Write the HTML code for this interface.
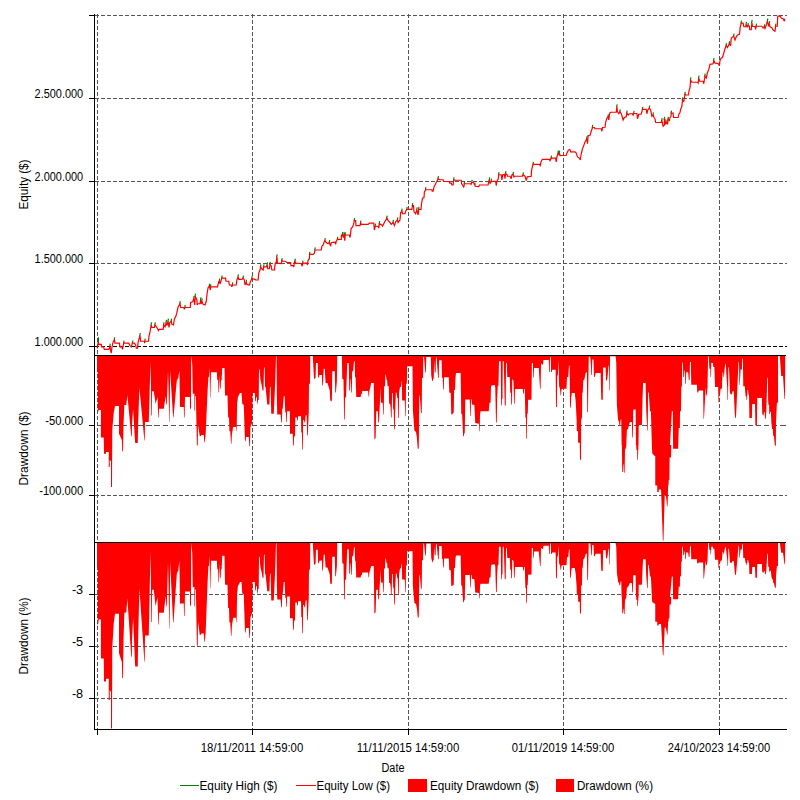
<!DOCTYPE html>
<html lang="en"><head><meta charset="utf-8"><title>Equity chart</title>
<style>html,body{margin:0;padding:0;background:#fff;}svg{display:block;}text{font-family:'Liberation Sans', sans-serif;font-size:12px;fill:#000;}</style>
</head><body>
<svg width="800" height="800" viewBox="0 0 800 800">
<rect width="800" height="800" fill="#fff"/>
<line x1="97.50" y1="14.00" x2="97.50" y2="729.50" stroke="#555" stroke-width="1" stroke-dasharray="4 2" shape-rendering="crispEdges"/>
<line x1="252.50" y1="14.00" x2="252.50" y2="729.50" stroke="#555" stroke-width="1" stroke-dasharray="4 2" shape-rendering="crispEdges"/>
<line x1="408.50" y1="14.00" x2="408.50" y2="729.50" stroke="#555" stroke-width="1" stroke-dasharray="4 2" shape-rendering="crispEdges"/>
<line x1="563.50" y1="14.00" x2="563.50" y2="729.50" stroke="#555" stroke-width="1" stroke-dasharray="4 2" shape-rendering="crispEdges"/>
<line x1="719.50" y1="14.00" x2="719.50" y2="729.50" stroke="#555" stroke-width="1" stroke-dasharray="4 2" shape-rendering="crispEdges"/>
<line x1="94.50" y1="15.50" x2="787.00" y2="15.50" stroke="#555" stroke-width="1" stroke-dasharray="4 2" shape-rendering="crispEdges"/>
<line x1="94.50" y1="98.50" x2="787.00" y2="98.50" stroke="#555" stroke-width="1" stroke-dasharray="4 2" shape-rendering="crispEdges"/>
<line x1="94.50" y1="181.50" x2="787.00" y2="181.50" stroke="#555" stroke-width="1" stroke-dasharray="4 2" shape-rendering="crispEdges"/>
<line x1="94.50" y1="263.50" x2="787.00" y2="263.50" stroke="#555" stroke-width="1" stroke-dasharray="4 2" shape-rendering="crispEdges"/>
<line x1="94.50" y1="346.50" x2="787.00" y2="346.50" stroke="#000" stroke-width="1" stroke-dasharray="4 2" shape-rendering="crispEdges"/>
<line x1="94.50" y1="425.50" x2="787.00" y2="425.50" stroke="#555" stroke-width="1" stroke-dasharray="5.6 2.525" stroke-dashoffset="5.125" shape-rendering="crispEdges"/>
<line x1="94.50" y1="495.50" x2="787.00" y2="495.50" stroke="#555" stroke-width="1" stroke-dasharray="4 2" shape-rendering="crispEdges"/>
<line x1="94.50" y1="594.50" x2="787.00" y2="594.50" stroke="#555" stroke-width="1" stroke-dasharray="4 2" shape-rendering="crispEdges"/>
<line x1="94.50" y1="646.50" x2="787.00" y2="646.50" stroke="#555" stroke-width="1" stroke-dasharray="4 2" shape-rendering="crispEdges"/>
<line x1="94.50" y1="698.50" x2="787.00" y2="698.50" stroke="#555" stroke-width="1" stroke-dasharray="4 2" shape-rendering="crispEdges"/>
<path d="M97.00,355.50 L97.00,355.62 L97.00,371.88 L97.75,372.25 L97.75,412.50 L98.75,410.00 L100.88,410.00 L100.88,437.50 L103.75,437.50 L103.75,437.50 L104.00,453.75 L106.00,453.75 L106.00,451.88 L108.75,451.88 L108.75,466.88 L109.75,466.88 L109.75,460.00 L111.00,461.25 L111.00,486.88 L112.00,486.88 L112.12,467.50 L112.25,430.00 L113.75,412.50 L115.00,405.88 L119.00,405.88 L119.00,433.75 L119.00,433.75 L121.88,440.00 L122.25,451.25 L123.00,451.25 L123.25,437.50 L123.50,425.00 L124.38,405.00 L126.25,405.00 L127.38,395.00 L131.25,436.25 L131.88,436.25 L132.00,425.00 L133.12,408.75 L135.00,441.25 L135.25,443.12 L137.75,443.12 L138.12,425.00 L139.38,387.50 L144.38,440.62 L144.75,440.62 L145.00,421.88 L148.75,421.88 L149.75,387.50 L150.62,361.88 L151.00,387.50 L151.25,415.62 L151.88,415.62 L152.12,391.25 L153.75,391.25 L155.62,403.75 L157.50,396.88 L158.25,417.50 L158.75,417.50 L159.00,408.75 L163.75,408.75 L165.62,396.25 L166.25,404.38 L166.75,404.38 L168.00,371.25 L168.50,387.50 L169.25,421.88 L169.62,421.88 L170.12,370.62 L173.12,417.50 L173.50,417.50 L176.25,386.25 L177.12,378.12 L177.88,380.62 L179.38,370.62 L180.00,406.88 L183.75,406.88 L184.12,417.50 L184.62,417.50 L185.00,396.88 L189.88,396.88 L190.00,408.75 L191.00,408.75 L191.12,362.50 L191.50,355.62 L192.25,365.00 L192.75,393.75 L194.38,393.75 L194.38,410.62 L195.00,410.62 L195.12,396.25 L195.88,396.25 L196.88,445.62 L197.75,445.62 L198.00,425.00 L199.75,436.25 L200.62,436.25 L201.25,435.00 L203.75,435.00 L204.38,442.50 L204.75,442.50 L205.62,435.00 L207.50,392.50 L208.38,376.88 L209.00,376.88 L209.62,367.50 L210.00,397.50 L210.38,397.50 L211.00,372.25 L216.88,372.25 L217.25,380.00 L218.12,380.00 L218.50,392.50 L219.00,392.50 L219.50,375.00 L220.00,388.75 L220.62,388.75 L221.00,380.62 L221.62,380.62 L222.25,368.12 L224.50,368.12 L225.00,395.62 L227.50,395.62 L228.12,417.50 L229.00,417.50 L229.38,431.25 L230.25,431.25 L231.00,443.75 L231.50,443.75 L231.88,435.00 L233.12,426.88 L236.00,426.88 L236.25,431.25 L236.62,431.25 L237.12,402.50 L237.50,401.25 L237.88,396.88 L240.00,393.12 L241.50,393.12 L242.25,403.75 L243.75,405.00 L245.00,441.25 L245.62,441.25 L246.00,436.88 L248.75,436.88 L249.38,446.25 L250.00,446.25 L250.38,426.88 L251.25,425.00 L252.12,422.50 L252.50,393.12 L254.75,393.12 L255.25,401.25 L255.88,401.25 L256.25,396.88 L256.88,396.88 L257.25,403.75 L257.75,403.75 L258.12,400.00 L258.75,400.00 L259.00,369.38 L259.75,369.38 L260.25,378.75 L261.88,386.25 L262.50,390.62 L263.50,390.62 L264.00,367.50 L264.62,367.50 L265.00,386.25 L265.62,387.50 L267.25,404.38 L269.38,404.38 L270.00,386.88 L270.62,386.88 L271.25,413.75 L273.75,413.75 L275.00,387.50 L276.00,356.25 L276.50,356.25 L276.88,400.00 L277.25,414.38 L280.62,414.38 L281.25,422.50 L281.88,422.50 L282.25,408.75 L282.75,408.75 L283.75,396.25 L284.62,396.25 L285.25,412.50 L286.00,412.50 L286.25,421.88 L286.88,421.88 L287.12,411.25 L289.88,411.25 L290.00,433.75 L292.75,433.75 L293.00,445.62 L293.75,445.62 L294.12,436.25 L295.00,436.25 L295.25,417.50 L296.88,417.50 L297.12,420.62 L297.75,420.62 L298.12,416.25 L301.00,416.25 L301.25,432.50 L301.88,432.50 L302.25,449.38 L302.88,449.38 L303.12,420.00 L304.00,420.00 L304.38,422.50 L305.00,422.50 L305.62,415.62 L306.62,415.00 L307.12,435.62 L307.75,435.62 L308.75,412.50 L309.00,383.75 L310.00,383.75 L310.25,355.62 L312.75,355.62 L314.00,378.75 L315.00,378.75 L315.62,377.50 L316.00,363.12 L317.75,363.12 L318.12,377.50 L319.00,377.50 L319.38,375.00 L321.88,375.00 L322.25,385.62 L322.88,385.62 L323.75,368.75 L324.75,368.75 L325.62,383.12 L327.50,383.12 L329.75,390.62 L330.25,400.62 L331.50,401.50 L331.88,400.00 L332.25,371.25 L334.75,371.25 L335.25,392.50 L335.88,392.50 L336.88,381.25 L337.25,355.62 L341.88,355.62 L342.25,378.75 L343.50,379.38 L344.12,419.38 L344.75,419.38 L345.00,397.50 L346.00,397.50 L347.25,363.12 L348.75,363.12 L349.25,390.62 L350.00,390.62 L350.50,378.75 L350.88,379.38 L351.25,392.50 L351.88,392.50 L352.12,371.25 L353.12,371.25 L354.00,361.25 L354.75,361.25 L355.00,376.88 L355.62,377.50 L356.25,396.88 L360.62,396.88 L361.25,393.75 L361.88,393.75 L362.25,391.00 L368.12,391.00 L368.50,396.50 L369.00,396.50 L369.38,391.25 L371.25,383.12 L373.75,383.12 L374.38,439.38 L375.62,438.12 L376.25,411.25 L377.88,411.25 L378.25,422.50 L379.00,422.50 L380.62,387.50 L380.88,402.50 L382.75,403.12 L383.25,414.38 L383.75,414.38 L384.12,386.25 L385.00,386.25 L385.38,374.38 L385.88,374.38 L386.50,380.00 L387.12,380.00 L387.50,386.25 L388.75,386.25 L389.12,403.75 L389.88,403.75 L390.00,403.75 L390.62,407.50 L391.00,417.50 L391.62,417.50 L392.12,393.12 L392.75,393.12 L393.12,408.75 L393.75,410.00 L394.12,429.38 L394.75,429.38 L395.25,410.00 L395.88,392.50 L396.50,392.50 L397.25,398.12 L397.75,398.12 L398.12,418.12 L398.75,418.12 L399.12,392.50 L400.00,386.88 L401.00,386.88 L401.50,381.25 L401.88,381.25 L402.12,400.62 L404.75,400.62 L405.25,416.25 L405.75,416.25 L406.00,383.75 L406.88,383.75 L407.12,366.25 L412.50,366.25 L412.88,410.00 L414.38,430.62 L416.00,431.88 L416.88,437.50 L417.75,448.75 L418.75,448.75 L419.00,425.00 L419.25,395.62 L419.75,395.62 L421.00,413.12 L421.75,413.12 L422.00,378.12 L423.00,378.12 L423.25,356.88 L424.00,356.88 L425.25,372.50 L425.88,372.50 L426.25,356.88 L430.75,356.88 L431.25,375.62 L432.25,381.25 L432.75,381.25 L433.12,378.75 L433.75,378.75 L434.12,360.00 L434.75,372.50 L435.62,372.50 L436.00,357.50 L436.62,357.50 L438.12,378.12 L438.75,378.12 L439.12,360.25 L441.62,360.25 L442.00,377.50 L442.75,378.12 L443.12,389.38 L443.75,389.38 L444.12,377.25 L448.75,377.25 L449.25,392.50 L450.75,393.12 L451.25,414.38 L451.88,414.38 L453.75,412.50 L454.12,390.00 L455.00,390.00 L455.50,376.88 L456.00,373.12 L460.62,373.12 L461.25,413.75 L462.12,414.38 L463.12,436.25 L463.75,436.25 L464.38,433.12 L464.75,433.12 L465.25,399.38 L469.75,399.38 L470.25,416.25 L470.75,416.25 L471.00,400.00 L471.50,398.75 L472.00,404.38 L474.38,405.00 L475.25,423.12 L479.00,423.75 L479.25,431.25 L479.75,431.25 L480.00,414.38 L480.62,411.25 L488.75,411.25 L489.38,403.12 L489.88,403.12 L490.00,402.50 L490.62,402.50 L491.00,386.88 L491.50,385.62 L494.75,385.00 L495.25,387.50 L496.00,422.50 L496.75,422.50 L497.12,400.00 L497.75,386.25 L498.50,385.62 L499.00,361.25 L500.75,361.25 L501.12,405.62 L501.75,405.62 L502.00,399.38 L502.50,398.75 L502.75,361.25 L503.75,361.25 L504.75,405.62 L505.75,405.62 L506.00,363.12 L506.75,363.12 L507.25,376.88 L509.75,376.88 L510.25,392.50 L511.00,393.12 L511.25,404.38 L512.00,404.38 L512.25,379.38 L512.88,379.38 L513.50,381.25 L514.00,403.75 L514.62,403.75 L515.00,389.00 L522.75,389.00 L523.12,393.75 L523.75,393.75 L524.12,389.00 L524.75,389.00 L525.38,417.50 L526.00,418.12 L526.25,438.75 L526.88,438.75 L527.12,413.75 L527.75,413.75 L528.12,399.75 L531.50,399.75 L531.88,363.12 L532.88,363.12 L533.25,377.50 L533.75,377.50 L534.12,368.12 L538.75,368.12 L540.00,388.75 L540.62,388.75 L541.00,363.75 L542.00,363.75 L542.25,364.75 L543.00,364.75 L543.38,360.00 L548.75,360.00 L549.12,371.88 L549.75,371.88 L550.00,356.88 L550.75,356.88 L551.00,371.88 L551.75,371.88 L552.12,369.75 L555.62,369.75 L556.00,406.88 L556.88,406.88 L557.25,375.62 L557.88,375.62 L558.50,360.00 L559.12,386.25 L560.00,388.75 L560.62,395.62 L561.00,395.62 L561.50,389.38 L562.50,388.75 L566.50,388.75 L567.00,376.88 L568.25,376.88 L569.00,365.62 L569.62,365.62 L570.00,407.50 L570.75,407.50 L571.25,397.50 L571.88,393.12 L574.75,393.12 L575.62,400.62 L576.62,420.00 L576.75,431.00 L578.00,431.25 L578.12,442.75 L579.75,442.75 L580.00,459.75 L581.00,459.75 L581.12,420.00 L582.00,417.50 L582.25,393.12 L582.75,392.50 L583.25,380.62 L584.38,379.38 L585.62,373.12 L586.88,371.88 L587.25,411.88 L588.00,411.88 L588.25,387.50 L588.75,356.88 L589.00,356.25 L590.25,356.88 L591.00,366.25 L591.25,375.00 L591.88,375.00 L592.25,359.38 L593.50,359.38 L594.00,376.88 L594.75,376.88 L595.62,373.12 L600.62,373.12 L601.25,399.38 L602.75,400.00 L603.12,367.50 L605.62,367.50 L606.00,380.62 L606.88,380.62 L607.50,376.88 L608.50,366.25 L609.00,365.00 L609.25,390.62 L609.75,390.62 L610.00,356.25 L615.62,356.25 L616.25,362.50 L616.88,405.00 L618.12,420.00 L619.00,421.88 L619.38,425.62 L620.25,425.62 L620.62,419.38 L621.25,419.38 L621.62,445.00 L621.88,445.00 L622.25,471.88 L623.12,471.88 L623.38,463.75 L623.75,465.00 L624.00,472.75 L624.62,472.75 L625.00,449.38 L625.62,448.75 L626.50,445.00 L626.25,446.25 L626.88,430.00 L628.12,428.75 L629.38,423.75 L630.00,421.88 L631.88,421.88 L632.25,437.50 L632.88,437.50 L633.25,409.38 L635.62,409.38 L636.00,445.00 L636.25,445.00 L636.38,450.00 L637.12,450.00 L637.25,459.75 L637.88,459.75 L638.12,452.50 L638.50,445.00 L638.50,445.00 L638.75,425.00 L641.88,425.00 L642.50,400.00 L643.12,383.12 L645.62,383.12 L646.25,411.25 L647.25,430.62 L647.75,430.62 L648.12,392.50 L648.75,392.50 L650.00,411.25 L650.88,411.25 L651.88,445.00 L651.88,445.00 L652.25,453.75 L652.75,453.75 L654.00,455.62 L655.25,456.25 L655.25,485.62 L657.25,485.62 L657.25,491.88 L658.75,491.88 L658.75,489.38 L661.00,489.38 L661.25,495.00 L662.25,523.75 L662.88,540.62 L663.50,540.62 L664.00,520.00 L664.75,495.00 L665.88,495.62 L667.12,506.25 L667.62,506.25 L668.12,485.62 L668.50,485.62 L668.75,480.00 L669.38,480.00 L669.62,457.50 L671.00,457.50 L671.25,445.00 L670.00,445.00 L671.88,411.25 L672.75,411.25 L673.12,448.75 L678.12,448.75 L678.75,428.12 L679.88,428.12 L680.00,411.25 L681.00,411.25 L681.25,387.50 L681.88,386.25 L682.25,362.50 L682.88,362.50 L683.25,376.88 L684.00,376.88 L684.50,370.62 L685.00,370.62 L685.25,383.75 L685.88,383.75 L686.25,372.25 L688.12,372.25 L688.75,380.00 L689.62,380.00 L690.00,361.88 L690.88,361.88 L691.25,384.75 L696.88,384.75 L697.25,392.50 L698.12,392.50 L698.75,390.62 L703.12,390.62 L703.50,418.75 L704.00,418.75 L705.62,387.50 L706.25,395.62 L706.88,395.62 L707.50,386.88 L708.12,356.25 L708.75,356.25 L709.38,368.75 L710.25,368.75 L710.50,376.88 L711.00,376.88 L711.25,363.12 L712.88,363.12 L713.25,366.88 L714.38,366.88 L715.00,386.88 L718.12,386.88 L718.50,402.50 L719.00,402.50 L719.38,394.38 L720.00,394.38 L720.62,388.75 L721.88,388.75 L722.50,372.50 L723.12,372.50 L723.50,376.88 L724.00,376.88 L724.50,370.00 L725.25,363.75 L725.75,363.75 L727.25,388.75 L727.50,400.00 L728.00,400.00 L728.38,367.50 L729.00,367.50 L730.00,393.75 L731.25,393.75 L731.88,395.00 L732.50,391.25 L733.75,391.25 L734.75,413.75 L735.25,418.12 L735.88,418.12 L736.25,412.50 L738.50,361.88 L739.00,361.88 L739.38,385.00 L739.75,385.00 L740.62,369.38 L741.88,369.38 L742.25,358.75 L742.88,358.75 L743.25,386.25 L744.75,386.25 L745.62,396.25 L746.25,396.25 L746.50,400.00 L747.00,400.00 L747.50,390.00 L748.12,390.00 L748.50,395.00 L749.00,395.00 L749.38,418.12 L751.88,418.12 L752.25,404.00 L755.00,404.00 L755.38,425.62 L756.88,425.62 L757.25,398.12 L761.88,398.12 L762.25,414.38 L763.12,414.38 L763.50,416.25 L764.00,411.88 L764.62,411.88 L765.00,418.75 L765.75,418.75 L766.25,412.50 L767.25,378.12 L767.90,377.50 L768.13,400.00 L768.35,404.50 L769.10,404.88 L769.25,413.88 L770.00,413.88 L770.15,411.63 L770.90,411.63 L771.35,422.50 L772.10,428.88 L772.85,428.88 L773.15,435.63 L773.90,436.00 L774.88,445.75 L775.85,445.75 L776.00,422.50 L776.90,403.00 L777.88,402.85 L777.88,400.00 L778.00,403.00 L778.00,356.00 L779.80,356.00 L781.20,376.00 L783.00,376.00 L784.50,399.00 L785.00,399.00 L785.20,356.00 L785.20,355.50 L785.20,355.50 Z" fill="#ff0000"/>
<path d="M97.00,542.50 L97.00,542.69 L97.00,566.95 L97.75,567.51 L97.75,627.60 L98.75,619.61 L100.88,619.61 L100.88,658.52 L103.75,658.52 L103.75,658.52 L104.00,681.51 L106.00,681.51 L106.00,678.86 L108.75,678.86 L108.75,700.08 L109.75,700.08 L109.75,690.35 L111.00,692.12 L111.00,728.38 L112.00,728.38 L112.12,700.97 L112.25,647.91 L113.75,623.15 L115.00,613.77 L119.00,613.77 L119.00,653.21 L119.00,653.21 L121.88,662.06 L122.25,677.97 L123.00,677.97 L123.25,658.52 L123.50,640.83 L124.38,612.54 L126.25,612.54 L127.38,598.39 L131.25,656.75 L131.88,656.75 L132.00,640.83 L133.12,617.84 L135.00,663.82 L135.25,666.48 L137.75,666.48 L138.12,640.83 L139.38,587.78 L144.38,661.73 L144.75,661.73 L145.00,635.46 L148.75,635.46 L149.75,587.32 L150.62,551.24 L151.00,586.38 L151.25,621.91 L151.88,621.91 L152.12,589.72 L153.75,589.72 L155.62,606.23 L157.50,597.15 L158.25,624.39 L158.75,624.39 L159.00,612.83 L163.75,612.83 L165.62,596.32 L166.25,606.20 L166.75,606.20 L168.00,563.03 L168.50,583.93 L169.25,628.44 L169.62,628.44 L170.12,562.08 L173.12,622.78 L173.50,622.78 L176.25,581.42 L177.12,570.51 L177.88,573.60 L179.38,560.71 L180.00,603.42 L183.75,603.42 L184.12,616.01 L184.62,616.01 L185.00,591.56 L189.88,591.56 L190.00,605.64 L191.00,605.26 L191.12,550.75 L191.50,542.65 L192.25,553.70 L192.75,587.45 L194.38,586.79 L194.38,606.33 L195.00,606.33 L195.12,589.68 L195.88,589.13 L196.88,645.64 L197.75,645.64 L198.00,622.03 L199.75,634.91 L200.62,634.91 L201.25,633.48 L203.75,633.48 L204.38,642.06 L204.75,642.06 L205.62,633.48 L207.50,584.12 L208.38,566.01 L209.00,566.01 L209.62,555.62 L210.00,588.43 L210.38,588.43 L211.00,560.82 L216.88,560.82 L217.25,569.29 L218.12,569.29 L218.50,582.30 L219.00,582.30 L219.50,563.36 L220.00,578.07 L220.62,578.07 L221.00,569.38 L221.62,569.23 L222.25,555.83 L224.50,555.83 L225.00,584.85 L227.50,584.85 L228.12,607.94 L229.00,607.94 L229.38,622.45 L230.25,622.45 L231.00,635.65 L231.50,635.65 L231.88,626.41 L233.12,617.84 L236.00,617.84 L236.25,622.45 L236.62,622.45 L237.12,592.11 L237.50,590.79 L237.88,586.17 L240.00,582.00 L241.50,582.00 L242.25,593.16 L243.75,594.47 L245.00,632.53 L245.62,632.53 L246.00,627.93 L248.75,627.93 L249.38,637.78 L250.00,637.78 L250.38,617.44 L251.25,615.47 L252.12,612.84 L252.50,582.00 L254.75,582.00 L255.25,590.53 L255.88,590.53 L256.25,585.94 L256.88,585.94 L257.25,593.16 L257.75,593.16 L258.12,589.22 L258.75,588.48 L259.00,556.84 L259.75,556.84 L260.25,566.21 L261.88,573.46 L262.50,577.87 L263.50,577.87 L264.00,554.58 L264.62,554.58 L265.00,573.46 L265.62,574.72 L267.25,591.34 L269.38,591.34 L270.00,573.77 L270.62,573.77 L271.25,600.56 L273.75,600.56 L275.00,574.40 L276.00,543.24 L276.50,543.24 L276.88,585.55 L277.25,599.46 L280.62,599.46 L281.25,607.32 L281.88,607.32 L282.25,594.01 L282.75,594.01 L283.75,581.92 L284.62,581.92 L285.25,597.64 L286.00,597.64 L286.25,606.71 L286.88,606.71 L287.12,596.43 L289.88,596.43 L290.00,618.20 L292.75,618.20 L293.00,629.69 L293.75,629.69 L294.12,620.62 L295.00,620.62 L295.25,602.48 L296.88,602.48 L297.12,605.50 L297.75,605.50 L298.12,601.27 L301.00,601.27 L301.25,616.99 L301.88,616.99 L302.25,633.32 L302.88,633.32 L303.12,604.90 L304.00,604.90 L304.38,607.32 L305.00,607.32 L305.62,600.67 L306.62,600.06 L307.12,620.01 L307.75,620.01 L308.75,597.64 L309.00,569.83 L310.00,569.56 L310.25,542.62 L312.75,542.62 L314.00,564.77 L315.00,564.40 L315.62,563.22 L316.00,549.68 L317.75,549.68 L318.12,563.22 L319.00,563.22 L319.38,560.87 L321.88,560.61 L322.25,570.48 L322.88,570.48 L323.75,554.75 L324.75,554.58 L325.62,567.62 L327.50,567.62 L329.75,574.44 L330.25,583.54 L331.50,584.33 L331.88,582.97 L332.25,556.82 L334.75,556.82 L335.25,576.15 L335.88,576.15 L336.88,565.92 L337.25,542.61 L341.88,542.61 L342.25,563.21 L343.50,563.72 L344.12,599.28 L344.75,599.28 L345.00,579.83 L346.00,579.83 L347.25,549.28 L348.75,549.28 L349.25,573.72 L350.00,573.72 L350.50,563.17 L350.88,563.67 L351.25,574.73 L351.88,574.73 L352.12,556.22 L353.12,556.13 L354.00,547.43 L354.75,547.37 L355.00,560.60 L355.62,561.13 L356.25,577.54 L360.62,577.54 L361.25,574.89 L361.88,574.89 L362.25,572.56 L368.12,572.56 L368.50,577.22 L369.00,577.22 L369.38,572.78 L371.25,565.89 L373.75,565.89 L374.38,613.53 L375.62,612.47 L376.25,589.71 L377.88,589.71 L378.25,599.24 L379.00,599.24 L380.62,569.60 L380.88,582.30 L382.75,582.83 L383.25,592.36 L383.75,592.36 L384.12,568.54 L385.00,568.54 L385.38,558.48 L385.88,558.48 L386.50,563.16 L387.12,563.07 L387.50,568.32 L388.75,568.32 L389.12,583.01 L389.88,583.01 L390.00,583.01 L390.62,586.16 L391.00,594.56 L391.62,594.56 L392.12,574.09 L392.75,574.09 L393.12,587.21 L393.75,588.26 L394.12,604.53 L394.75,604.53 L395.25,588.26 L395.88,573.57 L396.50,573.57 L397.25,578.29 L397.75,578.29 L398.12,595.08 L398.75,595.08 L399.12,573.57 L400.00,568.84 L401.00,568.35 L401.50,563.71 L401.88,563.63 L402.12,579.52 L404.75,579.52 L405.25,592.34 L405.75,592.34 L406.00,565.68 L406.88,565.53 L407.12,551.26 L412.50,551.16 L412.88,586.39 L414.38,603.00 L416.00,604.01 L416.88,608.54 L417.75,617.60 L418.75,617.60 L419.00,598.47 L419.25,574.81 L419.75,574.81 L421.00,588.91 L421.75,588.62 L422.00,560.61 L423.00,560.28 L423.25,543.58 L424.00,543.58 L425.25,555.60 L425.88,555.52 L426.25,543.55 L430.75,543.55 L431.25,557.91 L432.25,562.21 L432.75,562.21 L433.12,560.30 L433.75,560.30 L434.12,545.91 L434.75,555.40 L435.62,555.28 L436.00,544.00 L436.62,544.00 L438.12,559.25 L438.75,559.25 L439.12,546.02 L441.62,546.02 L442.00,558.79 L442.75,559.25 L443.12,567.58 L443.75,567.58 L444.12,558.60 L448.75,558.60 L449.25,569.89 L450.75,570.35 L451.25,586.08 L451.88,586.08 L453.75,584.70 L454.12,568.04 L455.00,568.04 L455.50,558.32 L456.00,555.55 L460.62,555.55 L461.25,585.62 L462.12,586.08 L463.12,602.28 L463.75,602.28 L464.38,599.96 L464.75,599.96 L465.25,574.98 L469.75,574.98 L470.25,587.47 L470.75,587.47 L471.00,575.44 L471.50,574.52 L472.00,578.68 L474.38,579.14 L475.25,592.56 L479.00,593.02 L479.25,598.58 L479.75,598.58 L480.00,586.08 L480.62,583.77 L488.75,583.77 L489.38,577.76 L489.88,577.76 L490.00,577.29 L490.62,577.29 L491.00,565.73 L491.50,564.80 L494.75,564.34 L495.25,566.19 L496.00,592.10 L496.75,592.10 L497.12,575.44 L497.75,565.26 L498.50,564.80 L499.00,546.71 L500.75,546.71 L501.12,579.17 L501.75,579.17 L502.00,574.59 L502.50,574.14 L502.75,546.71 L503.75,546.71 L504.75,579.13 L505.75,579.06 L506.00,548.06 L506.75,548.06 L507.25,558.09 L509.75,558.09 L510.25,569.48 L511.00,569.94 L511.25,578.15 L512.00,578.15 L512.25,559.91 L512.88,559.91 L513.50,561.28 L514.00,577.69 L514.62,577.69 L515.00,566.93 L522.75,566.93 L523.12,570.40 L523.75,570.40 L524.12,566.93 L524.75,566.93 L525.38,587.72 L526.00,588.17 L526.25,603.22 L526.88,603.22 L527.12,584.98 L527.75,584.98 L528.12,574.77 L531.50,574.48 L531.88,548.01 L532.88,547.94 L533.25,558.11 L533.75,558.11 L534.12,551.46 L538.75,551.46 L540.00,566.10 L540.62,566.10 L541.00,548.31 L542.00,548.28 L542.25,548.98 L543.00,548.97 L543.38,545.65 L548.75,545.65 L549.12,553.96 L549.75,553.96 L550.00,543.46 L550.75,543.46 L551.00,553.96 L551.75,553.91 L552.12,552.43 L555.62,552.43 L556.00,578.31 L556.88,578.19 L557.25,556.48 L557.88,556.48 L558.50,545.59 L559.12,563.64 L560.00,565.35 L560.62,570.08 L561.00,570.08 L561.50,565.78 L562.50,565.35 L566.50,565.35 L567.00,557.19 L568.25,557.09 L569.00,549.41 L569.62,549.39 L570.00,577.87 L570.75,577.87 L571.25,571.07 L571.88,568.09 L574.75,568.09 L575.62,573.20 L576.62,586.37 L576.75,593.86 L578.00,594.03 L578.12,601.85 L579.75,601.85 L580.00,613.41 L581.00,613.41 L581.12,586.37 L582.00,584.67 L582.25,568.09 L582.75,567.63 L583.25,559.56 L584.38,558.57 L585.62,554.25 L586.88,553.32 L587.25,579.75 L588.00,579.75 L588.25,563.47 L588.75,543.40 L589.00,542.99 L590.25,543.40 L591.00,549.54 L591.25,555.13 L591.88,555.13 L592.25,545.01 L593.50,544.99 L594.00,556.21 L594.75,556.21 L595.62,553.81 L600.62,553.81 L601.25,570.64 L602.75,571.05 L603.12,550.20 L605.62,550.10 L606.00,558.41 L606.88,558.23 L607.50,555.88 L608.50,549.21 L609.00,548.43 L609.25,564.43 L609.75,564.22 L610.00,542.96 L615.62,542.96 L616.25,546.82 L616.88,572.63 L618.12,581.77 L619.00,582.91 L619.38,585.19 L620.25,585.19 L620.62,581.39 L621.25,581.39 L621.62,596.99 L621.88,596.99 L622.25,613.35 L623.12,613.35 L623.38,608.40 L623.75,609.16 L624.00,613.88 L624.62,613.88 L625.00,599.65 L625.62,599.27 L626.50,596.99 L626.25,597.75 L626.88,587.85 L628.12,587.09 L629.38,584.05 L630.00,582.91 L631.88,582.91 L632.25,592.42 L632.88,592.42 L633.25,575.30 L635.62,575.30 L636.00,596.99 L636.25,596.99 L636.38,600.03 L637.12,600.03 L637.25,605.97 L637.88,605.97 L638.12,601.55 L638.50,596.99 L638.50,596.99 L638.75,584.81 L641.88,584.81 L642.50,569.59 L643.12,559.32 L645.62,559.32 L646.25,576.44 L647.25,588.23 L647.75,588.23 L648.12,565.02 L648.75,565.02 L650.00,576.44 L650.88,576.44 L651.88,596.99 L651.88,596.99 L652.25,602.31 L652.75,602.31 L654.00,603.45 L655.25,603.83 L655.25,621.72 L657.25,621.72 L657.25,625.52 L658.75,625.52 L658.75,624.00 L661.00,624.00 L661.25,627.43 L662.25,644.93 L662.88,655.20 L663.50,655.20 L664.00,642.64 L664.75,627.43 L665.88,627.81 L667.12,634.27 L667.62,634.27 L668.12,621.72 L668.50,621.72 L668.75,618.29 L669.38,618.29 L669.62,604.60 L671.00,604.60 L671.25,596.99 L670.00,596.99 L671.88,576.44 L672.75,576.44 L673.12,599.27 L678.12,599.27 L678.75,586.71 L679.88,586.71 L680.00,576.44 L681.00,576.44 L681.25,561.98 L681.88,561.19 L682.25,546.75 L682.88,546.69 L683.25,555.30 L684.00,555.30 L684.50,551.55 L685.00,551.43 L685.25,559.18 L685.88,559.18 L686.25,552.39 L688.12,552.39 L688.75,556.97 L689.62,556.84 L690.00,546.21 L690.88,546.14 L691.25,559.20 L696.88,559.20 L697.25,563.62 L698.12,563.62 L698.75,562.46 L703.12,562.46 L703.50,578.45 L704.00,578.45 L705.62,560.61 L706.25,565.21 L706.88,565.21 L707.50,560.10 L708.12,542.92 L708.75,542.92 L709.38,549.88 L710.25,549.80 L710.50,554.28 L711.00,554.28 L711.25,546.70 L712.88,546.70 L713.25,548.76 L714.38,548.71 L715.00,559.64 L718.12,559.64 L718.50,568.18 L719.00,568.18 L719.38,563.74 L720.00,563.74 L720.62,560.67 L721.88,560.57 L722.50,551.72 L723.12,551.72 L723.50,554.10 L724.00,553.99 L724.50,550.29 L725.25,546.89 L725.75,546.89 L727.25,560.08 L727.50,566.03 L728.00,566.03 L728.38,548.84 L729.00,548.84 L730.00,562.64 L731.25,562.40 L731.88,563.05 L732.50,561.05 L733.75,561.03 L734.75,572.69 L735.25,574.96 L735.88,574.96 L736.25,572.04 L738.50,545.80 L739.00,545.80 L739.38,557.73 L739.75,557.73 L740.62,549.57 L741.88,549.50 L742.25,544.14 L742.88,544.14 L743.25,558.01 L744.75,558.01 L745.62,563.05 L746.25,563.05 L746.50,564.95 L747.00,564.95 L747.50,559.90 L748.12,559.90 L748.50,562.42 L749.00,562.42 L749.38,574.09 L751.88,574.05 L752.25,566.93 L755.00,566.93 L755.38,577.82 L756.88,577.82 L757.25,563.97 L761.88,563.97 L762.25,572.16 L763.12,572.16 L763.50,573.10 L764.00,570.90 L764.62,570.90 L765.00,574.36 L765.75,574.36 L766.25,571.21 L767.25,553.90 L767.90,553.55 L768.13,564.86 L768.35,567.12 L769.10,567.31 L769.25,571.83 L770.00,571.83 L770.15,570.70 L770.90,570.70 L771.35,576.16 L772.10,579.37 L772.85,579.37 L773.15,582.76 L773.90,582.95 L774.88,587.85 L775.85,587.85 L776.00,576.16 L776.90,566.37 L777.88,566.05 L777.88,564.63 L778.00,566.13 L778.00,542.75 L779.80,542.75 L781.20,552.69 L783.00,552.69 L784.50,564.13 L785.00,564.13 L785.20,542.75 L785.20,542.50 L785.20,542.50 Z" fill="#ff0000"/>
<line x1="94.50" y1="355.50" x2="786.00" y2="355.50" stroke="#000" stroke-width="1" shape-rendering="crispEdges"/>
<line x1="94.50" y1="542.50" x2="786.00" y2="542.50" stroke="#000" stroke-width="1" shape-rendering="crispEdges"/>
<line x1="94.50" y1="729.50" x2="787.00" y2="729.50" stroke="#000" stroke-width="1" shape-rendering="crispEdges"/>
<line x1="94.50" y1="14.00" x2="94.50" y2="730.00" stroke="#000" stroke-width="1" shape-rendering="crispEdges"/>
<path d="M97.95,342.50 L98.55,339.40 M109.70,346.75 L110.30,343.65 M114.08,340.50 L114.67,337.40 M123.45,343.62 L124.05,340.52 M132.20,343.62 L132.80,340.52 M139.70,336.12 L140.30,333.02 M144.70,341.75 L145.30,338.65 M150.95,325.50 L151.55,322.40 M154.70,325.50 L155.30,322.40 M163.45,325.50 L164.05,322.40 M165.95,323.00 L166.55,319.90 M167.82,321.75 L168.43,318.65 M170.95,321.75 L171.55,318.65 M179.70,304.25 L180.30,301.15 M184.70,308.00 L185.30,304.90 M193.45,299.25 L194.05,296.15 M194.95,296.75 L195.55,293.65 M200.32,300.50 L200.93,297.40 M201.57,301.75 L202.18,298.65 M209.07,286.75 L209.68,283.65 M210.32,287.38 L210.93,284.27 M219.07,281.75 L219.68,278.65 M221.57,278.62 L222.18,275.52 M232.20,285.50 L232.80,282.40 M237.82,277.38 L238.43,274.27 M242.82,278.62 L243.43,275.52 M245.95,283.00 L246.55,279.90 M251.57,279.25 L252.18,276.15 M260.32,267.38 L260.93,264.27 M263.45,267.38 L264.05,264.27 M266.95,265.50 L267.55,262.40 M269.70,264.88 L270.30,261.77 M276.57,257.38 L277.18,254.28 M281.57,261.12 L282.18,258.02 M294.70,261.75 L295.30,258.65 M302.45,263.62 L303.05,260.52 M309.32,254.88 L309.93,251.78 M314.70,250.50 L315.30,247.40 M324.70,241.12 L325.30,238.03 M329.07,243.00 L329.68,239.90 M337.20,239.88 L337.80,236.78 M342.20,234.88 L342.80,231.78 M343.70,235.50 L344.30,232.40 M344.95,235.50 L345.55,232.40 M354.07,221.12 L354.68,218.03 M360.32,223.62 L360.93,220.53 M374.95,226.75 L375.55,223.65 M379.07,224.25 L379.68,221.15 M386.57,218.62 L387.18,215.53 M392.82,223.00 L393.43,219.90 M397.20,220.50 L397.80,217.40 M401.57,211.75 L402.18,208.65 M406.57,209.88 L407.18,206.78 M412.20,206.12 L412.80,203.03 M416.57,210.50 L417.18,207.40 M418.45,209.88 L419.05,206.78 M425.32,190.25 L425.93,187.15 M437.82,179.25 L438.43,176.15 M453.45,180.50 L454.05,177.40 M464.07,184.25 L464.68,181.15 M471.57,183.00 L472.18,179.90 M489.07,180.50 L489.68,177.40 M490.95,181.75 L491.55,178.65 M498.45,175.25 L499.05,172.15 M505.32,174.25 L505.93,171.15 M512.83,174.88 L513.42,171.78 M522.83,175.50 L523.42,172.40 M532.83,164.88 L533.42,161.78 M550.95,158.62 L551.55,155.53 M557.83,153.62 L558.42,150.53 M559.08,153.62 L559.67,150.53 M586.58,139.25 L587.17,136.15 M592.20,128.00 L592.80,124.90 M607.83,117.38 L608.42,114.28 M616.58,107.38 L617.17,104.28 M619.70,112.38 L620.30,109.28 M626.58,113.62 L627.17,110.53 M633.45,114.00 L634.05,110.90 M642.20,109.88 L642.80,106.78 M649.08,108.62 L649.67,105.53 M652.83,115.50 L653.42,112.40 M661.58,121.12 L662.17,118.03 M664.08,119.88 L664.67,116.78 M666.58,123.00 L667.17,119.90 M667.83,119.88 L668.42,116.78 M670.95,113.62 L671.55,110.53 M682.20,100.50 L682.80,97.40 M684.70,94.88 L685.30,91.78 M690.33,80.50 L690.92,77.40 M698.45,78.62 L699.05,75.53 M704.70,76.75 L705.30,73.65 M713.45,61.12 L714.05,58.02 M725.95,46.12 L726.55,43.02 M729.08,44.25 L729.67,41.15 M733.45,36.75 L734.05,33.65 M740.95,23.62 L741.55,20.52 M745.95,24.88 L746.55,21.77 M747.83,26.12 L748.42,23.02 M751.58,23.00 L752.17,19.90 M755.95,26.75 L756.55,23.65 M764.08,27.38 L764.67,24.27 M767.20,21.75 L767.80,18.65 M769.08,24.25 L769.67,21.15 M775.33,26.75 L775.92,23.65 M98.40,342.00 L98.40,337.30" stroke="#008000" stroke-width="1.2" fill="none"/><polyline fill="none" stroke="#ff0000" stroke-width="1.2" stroke-linejoin="miter" stroke-miterlimit="3" points="97.25,348.50 98.25,342.00 98.75,344.38 101.25,344.38 101.50,346.88 103.50,346.88 104.38,349.38 108.75,349.38 110.00,346.25 110.62,350.62 111.25,353.12 111.88,347.50 113.12,341.88 114.38,340.00 115.00,343.12 119.38,343.12 120.00,346.88 121.88,346.88 122.50,349.38 123.12,346.25 123.75,343.12 128.75,343.12 130.00,345.62 131.25,346.88 132.50,343.12 134.38,343.12 135.62,345.00 136.25,348.12 137.50,348.12 138.12,341.88 140.00,335.62 140.62,341.25 144.38,341.25 144.62,343.12 145.00,341.25 148.50,341.25 149.00,336.25 150.00,331.88 151.25,325.00 151.88,327.50 154.38,327.50 155.00,325.00 156.25,326.25 157.50,328.75 158.50,330.62 159.00,329.38 163.12,329.38 163.75,325.00 165.00,326.88 166.25,322.50 166.88,325.62 168.12,321.25 169.00,327.50 169.75,322.50 171.25,321.25 171.88,324.38 173.50,325.00 174.38,318.75 175.62,316.88 176.88,312.50 178.12,306.88 180.00,303.75 180.62,307.50 183.75,307.50 184.38,309.38 185.00,307.50 190.00,307.50 190.25,307.50 190.62,302.50 192.50,301.88 193.75,298.75 194.75,305.00 195.25,296.25 196.88,300.00 197.25,305.00 197.75,303.75 200.00,303.75 200.62,300.00 201.25,303.75 201.88,301.25 203.12,304.38 205.00,305.00 206.25,301.25 207.25,292.50 208.12,287.50 209.38,286.25 210.38,290.00 210.62,286.88 217.50,286.88 218.50,282.50 219.38,281.25 220.00,283.75 221.25,280.00 221.88,278.12 225.62,278.12 226.00,281.25 228.75,281.25 229.38,285.00 231.25,285.00 231.88,286.88 232.50,285.00 236.25,285.00 236.88,280.00 238.12,276.88 238.75,279.38 241.88,279.38 243.12,278.12 244.38,280.00 245.00,285.00 246.25,282.50 246.88,284.38 249.38,285.00 250.62,281.25 251.88,278.75 255.00,279.38 255.62,280.00 258.12,280.00 258.75,273.12 260.00,270.00 260.62,266.88 261.88,268.75 263.12,270.00 263.75,266.88 266.25,266.88 267.25,265.00 267.75,268.75 269.38,268.75 270.00,264.38 271.25,266.25 271.88,270.00 274.38,270.00 275.25,263.12 276.25,262.50 276.88,256.88 277.50,263.12 281.25,263.50 281.88,260.62 283.12,261.25 285.00,261.25 285.00,261.25 286.25,261.88 286.88,262.50 290.62,262.50 291.00,265.62 293.12,265.62 293.75,266.88 294.38,262.50 295.00,261.25 295.62,263.12 301.25,263.50 302.25,266.25 302.75,263.12 306.88,263.12 307.50,265.00 308.12,260.00 309.38,258.75 309.62,254.38 313.12,254.38 314.38,253.12 315.00,250.00 321.25,250.00 321.88,246.25 323.12,245.00 324.38,241.25 325.00,240.62 326.25,242.50 328.12,243.75 329.38,242.50 330.62,246.25 331.25,242.50 335.00,242.25 335.62,244.38 336.25,241.25 337.50,239.38 341.25,239.38 341.50,235.00 342.50,234.38 343.12,237.50 344.00,235.00 344.75,240.62 345.25,235.00 349.38,235.00 350.00,237.50 350.62,233.75 351.00,228.75 352.50,226.88 353.50,224.38 354.38,220.62 355.62,220.62 356.00,225.62 360.00,225.62 360.62,223.12 361.25,224.38 368.12,224.38 369.38,223.12 373.75,223.12 374.38,230.00 375.25,226.25 378.12,226.25 378.75,228.12 379.38,223.75 380.00,223.75 380.00,224.38 381.88,225.00 382.50,226.25 383.75,223.75 385.00,221.25 386.25,219.38 386.88,218.12 388.12,220.62 390.00,222.50 391.25,224.38 393.12,222.50 394.38,225.62 395.62,221.88 397.50,220.00 398.12,222.50 399.38,220.62 400.00,220.00 400.62,212.50 401.88,211.25 402.50,213.75 405.00,213.75 405.62,211.25 406.88,209.38 411.88,209.38 412.50,205.62 413.50,205.62 414.00,211.88 415.62,213.75 416.88,210.00 418.12,215.00 418.75,209.38 421.00,209.38 421.50,203.75 422.50,198.12 424.00,197.50 424.38,191.88 425.62,189.75 431.88,189.75 432.25,191.25 433.12,191.25 434.00,186.88 435.62,183.75 437.50,180.00 438.12,178.75 439.38,179.75 443.12,179.75 443.50,181.50 449.38,181.50 449.75,183.12 451.25,183.12 451.88,185.00 453.12,185.00 453.75,180.00 456.25,180.25 461.25,180.25 461.62,183.75 462.50,185.00 463.75,187.50 464.38,183.75 470.62,183.75 471.00,184.38 471.88,182.50 473.75,182.50 474.38,184.38 475.00,183.75 475.00,183.75 475.25,186.25 478.75,186.50 479.38,185.00 488.12,185.00 488.75,181.25 489.38,180.00 490.00,183.75 491.25,181.25 495.62,181.25 496.25,185.62 496.88,181.25 498.12,179.38 498.75,174.75 501.25,174.75 501.88,180.00 502.75,174.75 504.38,174.38 505.00,178.75 505.62,173.75 506.88,174.38 507.50,176.25 510.00,176.25 511.25,178.75 511.88,175.00 513.12,174.38 514.00,176.88 514.75,176.25 522.50,176.25 523.12,175.00 525.00,176.25 526.25,180.62 527.25,176.88 531.25,176.25 531.50,170.62 532.50,166.25 533.12,164.38 539.38,164.38 540.25,165.62 541.00,161.88 541.88,160.00 542.50,159.38 549.38,159.38 550.00,160.62 551.25,158.12 555.62,158.12 556.25,161.88 556.88,156.88 558.12,153.12 558.75,155.00 559.38,153.12 560.00,155.62 566.25,155.25 566.88,153.12 568.12,150.62 569.38,149.38 570.00,149.75 570.00,149.38 570.62,151.88 575.00,151.88 576.25,153.12 577.50,156.88 579.38,158.12 580.25,160.00 581.00,155.00 582.50,148.75 583.75,145.62 585.00,141.88 586.88,138.75 587.50,143.75 588.12,135.62 590.00,135.25 591.25,131.25 592.50,127.50 594.38,127.50 595.00,128.75 601.25,128.75 601.88,131.25 602.50,127.50 605.00,127.25 605.62,122.50 606.88,118.12 608.12,116.88 608.75,120.00 609.75,113.12 610.62,112.25 616.25,112.25 616.88,106.88 617.50,111.88 618.75,113.75 620.00,111.88 621.25,113.75 622.50,117.50 623.12,120.00 624.38,117.50 626.25,116.88 626.88,113.12 628.12,115.00 629.38,113.75 632.50,113.75 633.12,115.62 633.75,113.50 636.88,113.50 637.50,118.75 638.75,114.38 641.25,114.00 642.50,109.38 646.25,109.38 646.88,113.75 647.75,110.00 649.38,108.12 650.62,110.00 651.88,116.25 653.12,115.00 654.00,117.50 655.00,118.75 655.62,122.50 661.25,122.50 661.88,120.62 663.12,126.25 664.38,125.00 664.38,119.38 665.00,119.38 665.00,119.38 665.62,123.75 666.88,122.50 667.50,124.38 668.12,119.38 669.38,120.62 670.00,117.50 671.00,116.25 671.25,113.12 673.12,113.12 673.50,117.50 678.12,117.50 678.75,114.38 680.00,112.50 680.62,109.38 681.88,106.25 682.50,100.00 683.75,101.25 685.00,94.38 686.25,95.00 688.50,95.00 689.00,90.62 690.00,88.12 690.62,80.00 691.88,82.25 697.50,82.25 698.12,83.12 698.75,78.12 699.75,81.25 703.12,81.25 703.75,83.75 705.00,76.25 706.25,78.12 707.50,72.50 708.75,69.38 710.00,64.38 713.12,63.75 713.75,60.62 715.00,63.12 718.12,63.50 719.38,65.62 720.00,60.62 721.00,58.12 722.50,57.50 723.75,53.12 725.00,48.75 726.25,45.62 727.50,47.50 729.38,43.75 730.62,45.62 731.25,38.12 732.50,36.88 733.75,36.25 735.00,40.00 736.25,36.88 737.50,35.00 739.38,34.38 740.00,30.00 740.00,28.12 741.25,23.12 743.12,23.12 743.75,26.50 745.62,26.88 746.25,24.38 747.25,26.88 748.12,25.62 749.38,26.25 749.75,29.75 751.25,29.75 751.88,22.50 752.50,26.25 755.00,26.50 755.62,29.38 756.25,26.25 761.88,26.25 763.12,28.12 764.38,26.88 765.00,28.50 766.25,25.00 767.50,21.25 768.75,26.25 769.38,23.75 770.00,26.88 771.88,27.75 773.12,30.00 775.00,31.25 775.62,26.25 777.25,26.25 777.75,16.25 780.00,16.00 781.25,18.12 783.12,18.75 784.38,21.25 784.75,18.75"/>
<line x1="89.00" y1="15.50" x2="94.50" y2="15.50" stroke="#000" stroke-width="1" shape-rendering="crispEdges"/>
<line x1="89.00" y1="98.50" x2="94.50" y2="98.50" stroke="#000" stroke-width="1" shape-rendering="crispEdges"/>
<text x="83.2" y="98.00" text-anchor="end" textLength="48.6" lengthAdjust="spacingAndGlyphs">2.500.000</text>
<line x1="89.00" y1="181.50" x2="94.50" y2="181.50" stroke="#000" stroke-width="1" shape-rendering="crispEdges"/>
<text x="83.2" y="181.00" text-anchor="end" textLength="48.6" lengthAdjust="spacingAndGlyphs">2.000.000</text>
<line x1="89.00" y1="263.50" x2="94.50" y2="263.50" stroke="#000" stroke-width="1" shape-rendering="crispEdges"/>
<text x="83.2" y="263.00" text-anchor="end" textLength="48.6" lengthAdjust="spacingAndGlyphs">1.500.000</text>
<line x1="89.00" y1="346.50" x2="94.50" y2="346.50" stroke="#000" stroke-width="1" shape-rendering="crispEdges"/>
<text x="83.2" y="346.00" text-anchor="end" textLength="48.6" lengthAdjust="spacingAndGlyphs">1.000.000</text>
<line x1="89.00" y1="425.50" x2="94.50" y2="425.50" stroke="#000" stroke-width="1" shape-rendering="crispEdges"/>
<text x="83.2" y="425.00" text-anchor="end" textLength="38" lengthAdjust="spacingAndGlyphs">-50.000</text>
<line x1="89.00" y1="495.50" x2="94.50" y2="495.50" stroke="#000" stroke-width="1" shape-rendering="crispEdges"/>
<text x="83.2" y="495.00" text-anchor="end" textLength="44" lengthAdjust="spacingAndGlyphs">-100.000</text>
<line x1="89.00" y1="594.50" x2="94.50" y2="594.50" stroke="#000" stroke-width="1" shape-rendering="crispEdges"/>
<text x="83.2" y="594.00" text-anchor="end" textLength="11.3" lengthAdjust="spacingAndGlyphs">-3</text>
<line x1="89.00" y1="646.50" x2="94.50" y2="646.50" stroke="#000" stroke-width="1" shape-rendering="crispEdges"/>
<text x="83.2" y="646.00" text-anchor="end" textLength="11.3" lengthAdjust="spacingAndGlyphs">-5</text>
<line x1="89.00" y1="698.50" x2="94.50" y2="698.50" stroke="#000" stroke-width="1" shape-rendering="crispEdges"/>
<text x="83.2" y="698.00" text-anchor="end" textLength="11.3" lengthAdjust="spacingAndGlyphs">-8</text>
<line x1="97.50" y1="729.50" x2="97.50" y2="734.50" stroke="#000" stroke-width="1" shape-rendering="crispEdges"/>
<line x1="252.50" y1="729.50" x2="252.50" y2="734.50" stroke="#000" stroke-width="1" shape-rendering="crispEdges"/>
<line x1="408.50" y1="729.50" x2="408.50" y2="734.50" stroke="#000" stroke-width="1" shape-rendering="crispEdges"/>
<line x1="563.50" y1="729.50" x2="563.50" y2="734.50" stroke="#000" stroke-width="1" shape-rendering="crispEdges"/>
<line x1="719.50" y1="729.50" x2="719.50" y2="734.50" stroke="#000" stroke-width="1" shape-rendering="crispEdges"/>
<text x="252.00" y="752" text-anchor="middle" textLength="102.5" lengthAdjust="spacingAndGlyphs">18/11/2011 14:59:00</text>
<text x="408.00" y="752" text-anchor="middle" textLength="102.5" lengthAdjust="spacingAndGlyphs">11/11/2015 14:59:00</text>
<text x="563.00" y="752" text-anchor="middle" textLength="102.5" lengthAdjust="spacingAndGlyphs">01/11/2019 14:59:00</text>
<text x="719.00" y="752" text-anchor="middle" textLength="102.5" lengthAdjust="spacingAndGlyphs">24/10/2023 14:59:00</text>
<text x="393" y="772" text-anchor="middle" textLength="23" lengthAdjust="spacingAndGlyphs">Date</text>
<text transform="translate(28.00,184.50) rotate(-90)" text-anchor="middle" textLength="50" lengthAdjust="spacingAndGlyphs">Equity ($)</text>
<text transform="translate(28.00,448.50) rotate(-90)" text-anchor="middle" textLength="74" lengthAdjust="spacingAndGlyphs">Drawdown ($)</text>
<text transform="translate(28.00,636.00) rotate(-90)" text-anchor="middle" textLength="77" lengthAdjust="spacingAndGlyphs">Drawdown (%)</text>
<line x1="179.50" y1="785.50" x2="198.50" y2="785.50" stroke="#008000" stroke-width="1" shape-rendering="crispEdges"/>
<text x="199.5" y="790" textLength="78" lengthAdjust="spacingAndGlyphs">Equity High ($)</text>
<line x1="295.50" y1="785.50" x2="315.50" y2="785.50" stroke="#ff0000" stroke-width="1" shape-rendering="crispEdges"/>
<text x="316.5" y="790" textLength="73.5" lengthAdjust="spacingAndGlyphs">Equity Low ($)</text>
<rect x="408" y="779" width="19" height="13" fill="#ff0000" shape-rendering="crispEdges"/>
<text x="430" y="790" textLength="109" lengthAdjust="spacingAndGlyphs">Equity Drawdown ($)</text>
<rect x="556" y="779" width="18" height="13" fill="#ff0000" shape-rendering="crispEdges"/>
<text x="577" y="790" textLength="76" lengthAdjust="spacingAndGlyphs">Drawdown (%)</text>
</svg>
</body></html>
